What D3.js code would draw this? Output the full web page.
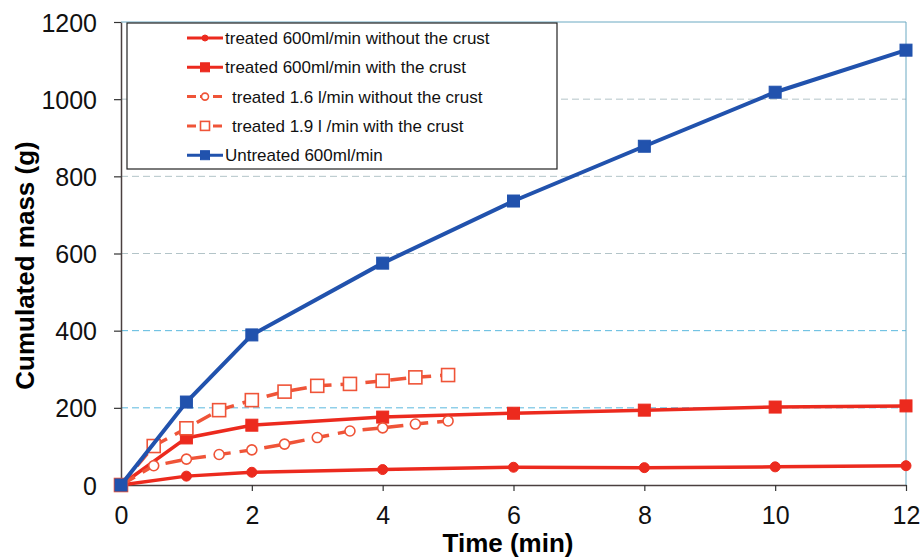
<!DOCTYPE html>
<html>
<head>
<meta charset="utf-8">
<script src="https://cdn.jsdelivr.net/npm/d3@7"></script>
<style>
  body { margin: 0; background: #fff; }
  svg { display: block; }
</style>
</head>
<body>
<div id="chart"></div>
<script>
// Data.
const xTicks = [0, 2, 4, 6, 8, 10, 12];
const yTicks = [0, 200, 400, 600, 800, 1000, 1200];

const timesLong = [0, 1, 2, 4, 6, 8, 10, 12];
const timesHalf = [0, 0.5, 1, 1.5, 2, 2.5, 3, 3.5, 4, 4.5, 5];
const timesUntreated = [0, 1, 2, 4, 6, 8, 10, 12];

const treated600NoCrust = [0, 23, 33, 40, 46, 45, 47, 50];
const treated600Crust = [0, 122, 155, 176, 186, 194, 202, 205];
const treated16NoCrust = [0, 50, 67, 79, 91, 106, 123, 140, 148, 158, 166];
const treated19Crust = [0, 101, 147, 194, 220, 242, 257, 262, 270, 279, 285];
const untreated600 = [0, 215, 389, 575, 736, 878, 1018, 1127];

const seriesNames = [
  "treated 600ml/min without the crust",
  "treated 600ml/min with the crust",
  "treated 1.6 l/min without the crust",
  "treated 1.9 l /min with the crust",
  "Untreated 600ml/min",
];

/**
 * Chart setup.
 */
const width = 920;
const height = 558;
const margin = { top: 22, right: 14, bottom: 73, left: 121 };
const innerWidth = width - margin.left - margin.right;
const innerHeight = height - margin.top - margin.bottom;

const red = "#ec2a1e";
const lightRed = "#ef5438";
const blue = "#2152ad";

const series = [
  { name: seriesNames[0], x: timesLong, y: treated600NoCrust, color: red, shape: "circle", open: false, dashed: false },
  { name: seriesNames[1], x: timesLong, y: treated600Crust, color: red, shape: "square", open: false, dashed: false },
  { name: seriesNames[2], x: timesHalf, y: treated16NoCrust, color: lightRed, shape: "circle", open: true, dashed: true },
  { name: seriesNames[3], x: timesHalf, y: treated19Crust, color: lightRed, shape: "square", open: true, dashed: true },
  { name: seriesNames[4], x: timesUntreated, y: untreated600, color: blue, shape: "square", open: false, dashed: false },
];

const svg = d3
  .select("#chart")
  .append("svg")
  .attr("width", width)
  .attr("height", height)
  .attr("font-family", "Liberation Sans, Arial, sans-serif");

const g = svg.append("g").attr("transform", `translate(${margin.left},${margin.top})`);

const x = d3.scaleLinear().domain([0, 12]).range([0, innerWidth]);
const y = d3.scaleLinear().domain([0, 1200]).range([innerHeight, 0]);

// Gridlines.
g.append("g")
  .selectAll("line")
  .data(yTicks.filter((d) => d > 0 && d < 1200))
  .join("line")
  .attr("x1", 0)
  .attr("x2", innerWidth)
  .attr("y1", (d) => y(d))
  .attr("y2", (d) => y(d))
  .attr("stroke", (d) => (d <= 400 ? "#5ab8de" : "#b3c4c8"))
  .attr("stroke-width", 1)
  .attr("stroke-dasharray", "7,4");

// Frame on top and right.
g.append("path")
  .attr("d", `M0,0H${innerWidth}V${innerHeight}`)
  .attr("fill", "none")
  .attr("stroke", "#6aa9c2")
  .attr("stroke-width", 1);

// Axes.
const xAxis = g
  .append("g")
  .attr("transform", `translate(0,${innerHeight})`)
  .call(d3.axisBottom(x).tickValues(xTicks).tickSize(6).tickPadding(15).tickSizeOuter(0));
const yAxis = g
  .append("g")
  .call(
    d3.axisLeft(y).tickValues(yTicks).tickFormat(d3.format("d")).tickSize(7).tickPadding(17).tickSizeOuter(0)
  );

[xAxis, yAxis].forEach((ax) => {
  ax.select(".domain").attr("stroke", "#4a4040").attr("stroke-width", 1.5);
  ax.selectAll(".tick line").attr("stroke", "#333").attr("stroke-width", 1.2);
  ax.selectAll(".tick text")
    .attr("font-size", 25)
    .attr("fill", "#111")
    .attr("font-family", "Liberation Sans, Arial, sans-serif");
});
yAxis.selectAll(".tick text").attr("dy", "0.36em");

// Axis titles.
svg
  .append("text")
  .attr("x", 508)
  .attr("y", 552)
  .attr("text-anchor", "middle")
  .attr("font-size", 26)
  .attr("font-weight", "bold")
  .text("Time (min)");

svg
  .append("text")
  .attr("transform", `translate(34,${margin.top + innerHeight / 2 + 12}) rotate(-90)`)
  .attr("text-anchor", "middle")
  .attr("font-size", 26)
  .attr("font-weight", "bold")
  .text("Cumulated mass (g)");

/**
 * Draws a marker at the given position.
 */
function drawMarker(sel, s, cx, cy, size) {
  const fill = s.open ? "#fff" : s.color;
  const sw = s.open ? 1.6 : 1;
  if (s.shape === "circle") {
    sel.append("circle")
      .attr("cx", cx)
      .attr("cy", cy)
      .attr("r", s.open ? size / 2 : size / 2 - 0.5)
      .attr("fill", fill)
      .attr("stroke", s.color)
      .attr("stroke-width", sw);
  } else {
    sel.append("rect")
      .attr("x", cx - size / 2)
      .attr("y", cy - size / 2)
      .attr("width", size)
      .attr("height", size)
      .attr("fill", fill)
      .attr("stroke", s.color)
      .attr("stroke-width", sw);
  }
}

const line = d3
  .line()
  .x((d) => x(d[0]))
  .y((d) => y(d[1]));

// Draw the red series first, then the blue one on top.
series.forEach((s) => {
  const pts = s.x.map((t, i) => [t, s.y[i]]);
  const sg = g.append("g");
  sg.append("path")
    .datum(pts)
    .attr("d", line)
    .attr("fill", "none")
    .attr("stroke", s.color)
    .attr("stroke-width", s.color === blue ? 4 : 3.5)
    .attr("stroke-dasharray", s.dashed ? "16,9" : null);
  pts.forEach((p) => {
    const sz = s.shape === "square" ? (s.open ? 13 : 12) : s.open ? 10 : 11;
    drawMarker(sg, s, x(p[0]), y(p[1]), sz);
  });
});

/**
 * Legend.
 */
const legend = svg.append("g").attr("transform", "translate(127,23)");
legend.append("rect")
  .attr("width", 430)
  .attr("height", 146)
  .attr("fill", "#fff")
  .attr("stroke", "#222")
  .attr("stroke-width", 1.2);

series.forEach((s, i) => {
  const ly = 15 + i * 29.3;
  const row = legend.append("g");
  row.append("line")
    .attr("x1", 60)
    .attr("x2", 96)
    .attr("y1", ly)
    .attr("y2", ly)
    .attr("stroke", s.color)
    .attr("stroke-width", 3)
    .attr("stroke-dasharray", s.dashed ? "9,4" : null);
  drawMarker(row, s, 78, ly, s.shape === "square" ? 9 : 7);
  row.append("text")
    .attr("x", s.open ? 105 : 98)
    .attr("y", ly)
    .attr("dy", "0.36em")
    .attr("font-size", 17)
    .attr("fill", "#111")
    .text(s.name);
});
</script>
</body>
</html>
